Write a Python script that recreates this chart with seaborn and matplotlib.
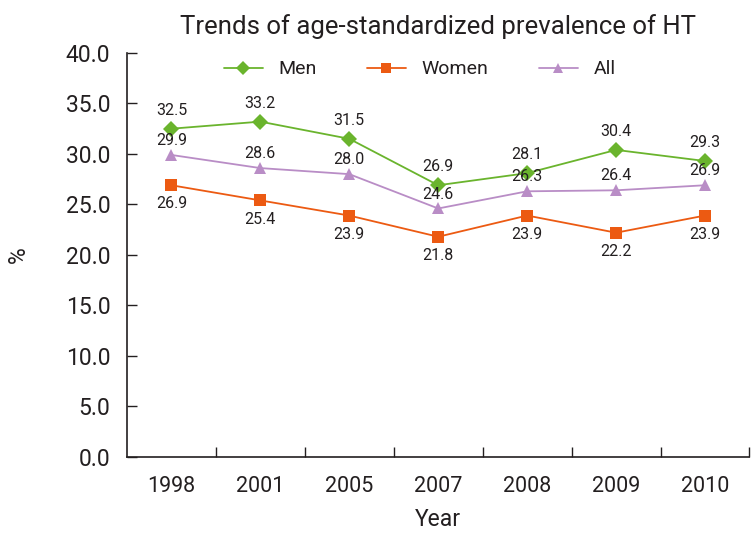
import numpy as np
import pandas as pd
import matplotlib
matplotlib.use('Agg')
import matplotlib.pyplot as plt
import seaborn as sns

# Data
years = ['1998', '2001', '2005', '2007', '2008', '2009', '2010']
men = [32.5, 33.2, 31.5, 26.9, 28.1, 30.4, 29.3]
women = [26.9, 25.4, 23.9, 21.8, 23.9, 22.2, 23.9]
all_ = [29.9, 28.6, 28.0, 24.6, 26.3, 26.4, 26.9]
yticks = [0, 5, 10, 15, 20, 25, 30, 35, 40]

sns.set_style('white')
plt.rcParams['font.family'] = ['Roboto', 'DejaVu Sans']

df = pd.DataFrame({'Year': years * 3,
                   'value': men + women + all_,
                   'group': ['Men'] * 7 + ['Women'] * 7 + ['All'] * 7})
df['x'] = list(range(7)) * 3

colors = {'Men': '#6ab42d', 'Women': '#ec5a12', 'All': '#b98dc6'}
markers = {'Men': 'D', 'Women': 's', 'All': '^'}

fig = plt.figure(figsize=(7.51, 5.35), dpi=100)
ax = fig.add_axes([0.169, 0.146, 0.829, 0.755])

sns.lineplot(data=df, x='x', y='value', hue='group', style='group',
             markers=markers, dashes=False, palette=colors,
             hue_order=['Men', 'Women', 'All'], markersize=8,
             markeredgewidth=0, linewidth=1.3, ax=ax)

# data labels
lab = dict(ha='center', fontsize=11.5, color='#231f20', textcoords='offset points')
for i, v in enumerate(men):
    ax.annotate(f'{v:.1f}', (i, v), xytext=(0, 8), va='bottom', **lab)
for i, v in enumerate(women):
    ax.annotate(f'{v:.1f}', (i, v), xytext=(0, -8), va='top', **lab)
for i, v in enumerate(all_):
    ax.annotate(f'{v:.1f}', (i, v), xytext=(0, 5), va='bottom', **lab)

ax.set_xlim(-0.5, 6.5)
ax.set_ylim(0, 40)
ax.set_yticks(yticks)
ax.set_yticklabels([f'{t:.1f}' for t in yticks], fontsize=16.5, color='#231f20')
ax.set_xticks(np.arange(0.5, 7, 1))
ax.set_xticklabels([])
ax.set_xticks(range(7), minor=True)
ax.set_xticklabels(years, minor=True, fontsize=15.5, color='#231f20')
ax.tick_params(axis='x', which='major', bottom=True, direction='in', length=7,
               width=1, color='#231f20')
ax.tick_params(axis='x', which='minor', bottom=True, length=0, pad=14)
ax.tick_params(axis='y', left=True, direction='in', length=7, width=1,
               color='#231f20', pad=12)

sns.despine(ax=ax)
for s in ['left', 'bottom']:
    ax.spines[s].set_color('#231f20')
    ax.spines[s].set_linewidth(1.2)

ax.set_xlabel('Year', fontsize=16.5, color='#231f20', labelpad=8)
ax.set_ylabel('%', fontsize=16.5, color='#231f20', labelpad=26)
ax.set_title('Trends of age-standardized prevalence of HT', fontsize=18.5,
             color='#231f20', pad=14, x=0.5)

leg = ax.legend(loc='upper center', bbox_to_anchor=(0.47, 1.025), ncol=3,
                frameon=False, fontsize=14, handlelength=2.0, columnspacing=2.6,
                markerscale=0.85, title=None)
for t in leg.get_texts():
    t.set_color('#231f20')

fig.savefig('out.png', dpi=100)
